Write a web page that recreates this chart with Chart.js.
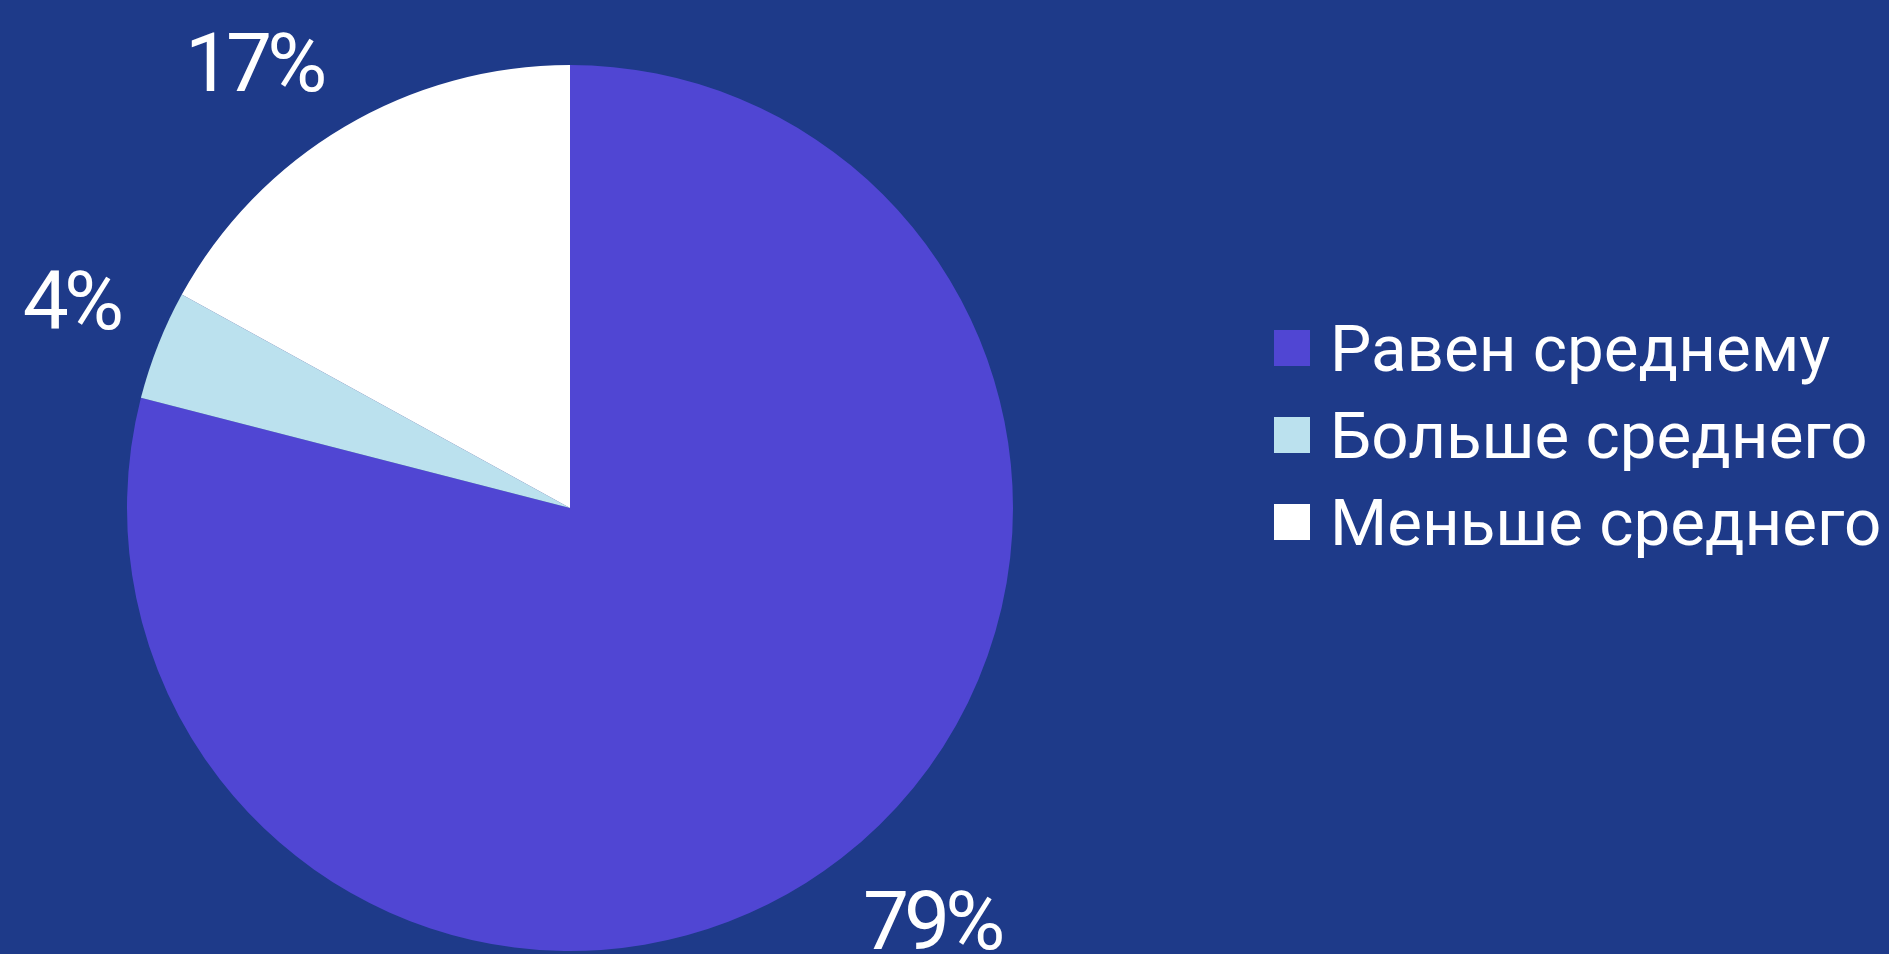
<!DOCTYPE html>
<html lang="ru">
<head>
<meta charset="utf-8">
<title>Распределение относительно среднего</title>
<script src="https://cdn.jsdelivr.net/npm/chart.js@4/dist/chart.umd.min.js"></script>
<style>
  html, body { margin: 0; padding: 0; background: #1e3a89; overflow: hidden; }
  #wrap { position: relative; width: 1889px; height: 954px; }
  canvas { display: block; }
</style>
</head>
<body>
<div id="wrap"><canvas id="pie" width="1889" height="954"></canvas></div>
<script>
// Categories and their shares, in percent
const categories = ['Равен среднему', 'Больше среднего', 'Меньше среднего'];
const shares = [79, 4, 17];
const sliceColors = ['#5046d3', '#bbe1ee', '#ffffff'];

const FONT = 'Roboto, "Noto Sans", sans-serif';

// Percent labels outside each slice: the label's nearest corner sits on a ring
// just beyond the pie, on the slice's middle angle
const pctLabels = {
  id: 'pctLabels',
  afterDatasetsDraw(chart, args, opts) {
    const ctx = chart.ctx;
    const meta = chart.getDatasetMeta(0);
    const values = chart.data.datasets[0].data;
    ctx.save();
    ctx.font = `${opts.size}px ${FONT}`;
    if ('letterSpacing' in ctx) ctx.letterSpacing = opts.spacing + 'px';
    ctx.fillStyle = opts.color;
    ctx.textAlign = 'left';
    ctx.textBaseline = 'alphabetic';
    meta.data.forEach((arc, i) => {
      const p = arc.getProps(['x', 'y', 'startAngle', 'endAngle', 'outerRadius'], true);
      const mid = (p.startAngle + p.endAngle) / 2;
      const dx = Math.cos(mid), dy = Math.sin(mid);
      const text = values[i] + '%';
      const m = ctx.measureText(text);
      const w = m.actualBoundingBoxLeft + m.actualBoundingBoxRight;
      const h = m.actualBoundingBoxAscent + m.actualBoundingBoxDescent;
      const d = p.outerRadius + opts.gap;
      const sx = Math.abs(dx) < 1e-6 ? 0 : Math.sign(dx);
      const sy = Math.abs(dy) < 1e-6 ? 0 : Math.sign(dy);
      const cx = p.x + dx * d + sx * w / 2;
      const cy = p.y + dy * d + sy * h / 2;
      ctx.fillText(text, cx - w / 2 + m.actualBoundingBoxLeft, cy + h / 2 - m.actualBoundingBoxDescent);
    });
    ctx.restore();
  }
};

// Legend column to the right of the pie, built from the chart's labels and colours
const sideLegend = {
  id: 'sideLegend',
  afterDraw(chart, args, opts) {
    const ctx = chart.ctx;
    const ds = chart.data.datasets[0];
    ctx.save();
    ctx.font = `${opts.size}px ${FONT}`;
    ctx.textAlign = 'left';
    ctx.textBaseline = 'alphabetic';
    const capH = ctx.measureText('Н').actualBoundingBoxAscent;
    chart.data.labels.forEach((label, i) => {
      const cy = opts.top + i * opts.step;
      ctx.fillStyle = ds.backgroundColor[i];
      ctx.fillRect(opts.left, cy - opts.box / 2, opts.box, opts.box);
      ctx.fillStyle = opts.color;
      ctx.fillText(label, opts.left + opts.box + opts.gap, cy + capH / 2);
    });
    ctx.restore();
  }
};

function draw() {
  new Chart(document.getElementById('pie'), {
    type: 'pie',
    data: {
      labels: categories,
      datasets: [{
        data: shares,
        backgroundColor: sliceColors,
        borderWidth: 0,
        hoverOffset: 0
      }]
    },
    options: {
      responsive: false,
      animation: false,
      events: [],
      layout: { padding: { top: 65, bottom: 3, left: 0, right: 749 } },
      plugins: {
        legend: { display: false },
        tooltip: { enabled: false },
        pctLabels: { size: 82, gap: 40, spacing: -5, color: '#ffffff' },
        sideLegend: { left: 1274, top: 348, step: 87, box: 36, gap: 20, size: 65.5, color: '#ffffff' }
      }
    },
    plugins: [pctLabels, sideLegend]
  });
}

if (document.fonts && document.fonts.load) {
  Promise.all([
    document.fonts.load('65px Roboto'),
    document.fonts.load('82px Roboto')
  ]).then(draw, draw);
} else {
  draw();
}
</script>
</body>
</html>
